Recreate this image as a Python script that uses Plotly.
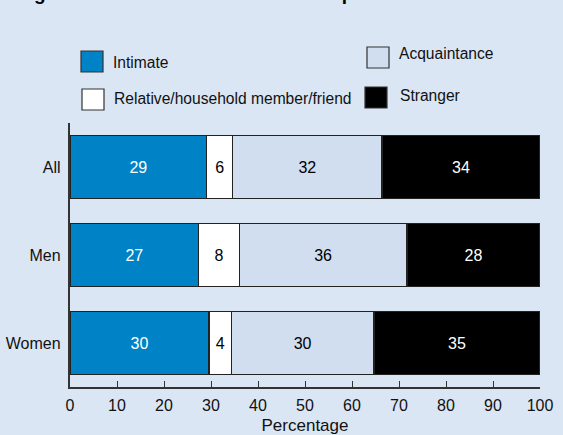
import plotly.graph_objects as go

categories = ["All", "Men", "Women"]
series_names = ["Intimate", "Relative/household member/friend", "Acquaintance", "Stranger"]
intimate = [29.1, 27.4, 29.6]
relative = [5.5, 8.6, 4.7]
acquaintance = [31.8, 35.7, 30.4]
stranger = [33.6, 28.3, 35.3]
intimate_lbl = [29, 27, 30]
relative_lbl = [6, 8, 4]
acquaintance_lbl = [32, 36, 30]
stranger_lbl = [34, 28, 35]
x_ticks = [0, 10, 20, 30, 40, 50, 60, 70, 80, 90, 100]

BG = "#dbe6f4"
fills = ["#0083c6", "#ffffff", "#d0def0", "#000000"]
txtcol = ["#ffffff", "#000000", "#000000", "#ffffff"]
FONT = "Liberation Sans, Arial, sans-serif"

values = [intimate, relative, acquaintance, stranger]
labels = [intimate_lbl, relative_lbl, acquaintance_lbl, stranger_lbl]

fig = go.Figure()
for name, v, l, f, tc in zip(series_names, values, labels, fills, txtcol):
    fig.add_trace(go.Bar(
        y=categories, x=v, orientation="h", name=name,
        marker=dict(color=f, line=dict(color="#222222", width=1.3)),
        text=[str(t) for t in l], textposition="inside", insidetextanchor="middle",
        textangle=0, constraintext="none",
        textfont=dict(family=FONT, size=16, color=tc),
        showlegend=False, hoverinfo="skip",
    ))

W, H = 563, 435
L, R, T, B = 70, 23, 123, 48
pw, ph = W - L - R, H - T - B

def px(x):
    return (x - L) / pw

def py(y):
    return (H - B - y) / ph

# legend (drawn manually to match the reference layout)
leg = [
    (series_names[0], fills[0], 81, 51, 103, 72, 111, 62),
    (series_names[2], fills[2], 367, 47, 389, 68, 397, 54),
    (series_names[1], fills[1], 82, 89, 104, 110, 112, 98),
    (series_names[3], fills[3], 365, 87, 387, 108, 398, 95),
]
shapes = []
annos = []
for name, f, x0, y0, x1, y1, tx, ty in leg:
    shapes.append(dict(type="rect", xref="paper", yref="paper",
                       x0=px(x0), x1=px(x1), y0=py(y1), y1=py(y0),
                       fillcolor=f, line=dict(color="#333333", width=1.2)))
    annos.append(dict(text=name, xref="paper", yref="paper", x=px(tx), y=py(ty),
                      xanchor="left", yanchor="middle", showarrow=False,
                      font=dict(family=FONT, size=15.6, color="#111111")))

# title (mostly cut off at the top of the image, as in the reference)
annos.append(dict(text="<b>Figure 1. Victim-offender relationship</b>", xref="paper", yref="paper",
                  x=px(15), y=py(6), xanchor="left", yanchor="bottom", showarrow=False,
                  font=dict(family=FONT, size=19, color="#000000")))

fig.update_layout(
    width=W, height=H, barmode="stack", bargap=0.28,
    paper_bgcolor=BG, plot_bgcolor=BG,
    margin=dict(l=L, r=R, t=T, b=B, pad=0, autoexpand=False),
    font=dict(family=FONT, size=16, color="#111111"),
    shapes=shapes, annotations=annos,
    xaxis=dict(range=[0, 100], tickvals=x_ticks, ticks="inside", ticklen=6,
               tickcolor="#333333", tickwidth=1.2, showline=True, linecolor="#333333",
               linewidth=1.5, showgrid=False, zeroline=False, ticklabelstandoff=3,
               automargin=False,
               tickfont=dict(size=16, color="#111111"),
               title=dict(text="Percentage", font=dict(size=17, color="#111111"), standoff=6)),
    yaxis=dict(categoryorder="array", categoryarray=categories, range=[2.5, -0.5],
               showline=True, linecolor="#333333", linewidth=1.5, ticks="",
               showgrid=False, zeroline=False, ticksuffix=" ", automargin=False,
               tickfont=dict(size=16, color="#111111")),
)

fig.write_html("out.html")
